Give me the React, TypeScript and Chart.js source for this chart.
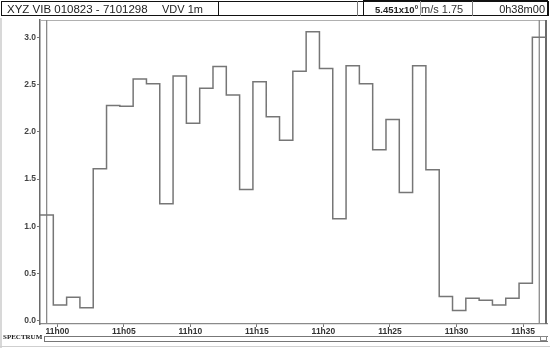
import React, { useEffect, useRef } from "react";
import { Chart, registerables } from "chart.js";

Chart.register(...registerables);

// ---- data ----
const stepStartMinute = -1.3; // start of first 1-minute step, in minutes from 11h00
const stepValues = [
  1.12, 0.17, 0.25, 0.14, 1.61, 2.28, 2.27, 2.56, 2.51, 1.24,
  2.59, 2.09, 2.46, 2.69, 2.39, 1.39, 2.53, 2.16, 1.91, 2.64,
  3.06, 2.67, 1.08, 2.7, 2.51, 1.81, 2.13, 1.36, 2.7, 1.6,
  0.26, 0.11, 0.24, 0.22, 0.17, 0.24, 0.4, 3.0,
];
const xTickMinutes = [0, 5, 10, 15, 20, 25, 30, 35];
const xTickLabels = ["11h00", "11h05", "11h10", "11h15", "11h20", "11h25", "11h30", "11h35"];
const yTickValues = [0, 0.5, 1, 1.5, 2, 2.5, 3];
const yTickLabels = ["0.0", "0.5", "1.0", "1.5", "2.0", "2.5", "3.0"];
const cursorMinutes = [-0.8, 36.22];
const headerTitle = "XYZ VIB 010823 - 7101298";
const headerMode = "VDV 1m";
const headerValue = "5.451x10";
const headerExp = "0";
const headerUnit = "m/s 1.75";
const headerDuration = "0h38m00";
const bandLabel = "SPECTRUM";

const frameAndCursors = {
  id: "frameAndCursors",
  beforeDatasetsDraw(chart: any) {
    const { ctx, chartArea, scales } = chart;
    ctx.save();
    ctx.strokeStyle = "#b0b0b0";
    ctx.lineWidth = 1;
    ctx.beginPath();
    ctx.moveTo(chartArea.left, chartArea.top + 0.5);
    ctx.lineTo(chartArea.right, chartArea.top + 0.5);
    ctx.stroke();
    ctx.strokeStyle = "#6a6a6a";
    ctx.lineWidth = 2;
    ctx.beginPath();
    ctx.moveTo(chartArea.right - 1, chartArea.top);
    ctx.lineTo(chartArea.right - 1, chartArea.bottom);
    ctx.stroke();
    ctx.strokeStyle = "#8a8a8a";
    ctx.lineWidth = 1.3;
    cursorMinutes.forEach((m) => {
      const x = scales.x.getPixelForValue(m);
      ctx.beginPath();
      ctx.moveTo(x, chartArea.top);
      ctx.lineTo(x, chartArea.bottom);
      ctx.stroke();
    });
    ctx.restore();
  },
};

export default function App() {
  const ref = useRef<HTMLCanvasElement | null>(null);

  useEffect(() => {
    if (!ref.current) return;
    const points = stepValues.map((v, i) => ({ x: stepStartMinute + i, y: v }));
    points.push({ x: stepStartMinute + stepValues.length, y: stepValues[stepValues.length - 1] });
    const chart = new Chart(ref.current, {
      type: "line",
      data: {
        datasets: [
          {
            data: points,
            stepped: true,
            borderColor: "#767676",
            borderWidth: 1.5,
            pointRadius: 0,
            fill: false,
          },
        ],
      },
      options: {
        animation: false,
        responsive: false,
        events: [],
        layout: { padding: { top: 20, right: 3, left: 0, bottom: 0 } },
        plugins: { legend: { display: false }, tooltip: { enabled: false } },
        scales: {
          x: {
            type: "linear",
            min: stepStartMinute,
            max: stepStartMinute + 38.1,
            afterFit: (s: any) => {
              s.height = 25;
            },
            afterBuildTicks: (s: any) => {
              s.ticks = xTickMinutes.map((v) => ({ value: v }));
            },
            ticks: {
              autoSkip: false,
              maxRotation: 0,
              padding: 0,
              color: "#333",
              font: { family: "Liberation Sans, Arial", size: 8.5, weight: "bold" },
              callback: (v: any) => {
                const i = xTickMinutes.indexOf(Number(v));
                return i >= 0 ? xTickLabels[i] : "";
              },
            },
            grid: { drawOnChartArea: false, tickLength: 3, color: "#777" },
            border: { color: "#8a8a8a", width: 1.2 },
          },
          y: {
            type: "linear",
            min: -0.032,
            max: 3.183,
            afterFit: (s: any) => {
              s.width = 40;
            },
            afterBuildTicks: (s: any) => {
              s.ticks = yTickValues.map((v) => ({ value: v }));
            },
            ticks: {
              padding: 1,
              color: "#444",
              font: { family: "Liberation Sans, Arial", size: 8.5, weight: "bold" },
              callback: (v: any) => {
                const i = yTickValues.indexOf(Number(v));
                return i >= 0 ? yTickLabels[i] : "";
              },
            },
            grid: { drawOnChartArea: false, tickLength: 3, color: "#777" },
            border: { color: "#6a6a6a", width: 1.5 },
          },
        },
      },
      plugins: [frameAndCursors],
    } as any);
    return () => chart.destroy();
  }, []);

  const font = "'Liberation Sans', Arial, sans-serif";
  const vline = (x: number, color = "#111", w = 1) => (
    <div style={{ position: "absolute", left: x, top: 1, width: w, height: 15, background: color }} />
  );

  return (
    <div style={{ position: "absolute", left: 0, top: 0, width: 550, height: 349, background: "#fff", overflow: "hidden" }}>
      <canvas ref={ref} width={550} height={349} style={{ position: "absolute", left: 0, top: 0, width: 550, height: 349 }} />
      <div style={{ position: "absolute", left: 0, top: 18, width: 2, height: 330, background: "#d8d8d8" }} />
      <div style={{ position: "absolute", left: 0, top: 346, width: 550, height: 1, background: "#cfcfcf" }} />
      <div style={{ position: "absolute", left: 1, top: 1, width: 545, height: 13, border: "1.5px solid #111", borderRightWidth: 2 }} />
      <div style={{ position: "absolute", left: 363, top: 0, width: 185, height: 2, background: "#111" }} />
      {vline(218)}
      {vline(357, "#777")}
      {vline(363)}
      {vline(420, "#999")}
      {vline(472, "#777")}
      <div style={{ position: "absolute", left: 7, top: 3, fontFamily: font, fontSize: 11.5, lineHeight: "13px", color: "#222", whiteSpace: "nowrap" }}>
        {headerTitle}
      </div>
      <div style={{ position: "absolute", left: 162, top: 3, fontFamily: font, fontSize: 11, lineHeight: "13px", color: "#222", whiteSpace: "nowrap" }}>
        {headerMode}
      </div>
      <div style={{ position: "absolute", left: 375, top: 3, fontFamily: font, fontSize: 9.5, fontWeight: "bold", lineHeight: "13px", color: "#222", whiteSpace: "nowrap" }}>
        {headerValue}
        <sup style={{ fontSize: 6, lineHeight: 0 }}>{headerExp}</sup>
      </div>
      <div style={{ position: "absolute", left: 421, top: 3, fontFamily: font, fontSize: 11, lineHeight: "13px", color: "#333", whiteSpace: "nowrap" }}>
        {headerUnit}
      </div>
      <div style={{ position: "absolute", right: 5, top: 3, fontFamily: font, fontSize: 11, lineHeight: "13px", color: "#222", whiteSpace: "nowrap", textAlign: "right" }}>
        {headerDuration}
      </div>
      <div style={{ position: "absolute", left: 3, top: 333, fontFamily: "'Liberation Serif', 'Times New Roman', serif", fontSize: 7, fontWeight: "bold", lineHeight: "8px", color: "#222", whiteSpace: "nowrap" }}>
        {bandLabel}
      </div>
      <div style={{ position: "absolute", left: 44, top: 336, width: 504, height: 1, background: "#777" }} />
      <div style={{ position: "absolute", left: 44, top: 341, width: 504, height: 1, background: "#777" }} />
      <div style={{ position: "absolute", left: 44, top: 336, width: 1, height: 6, background: "#777" }} />
      <div style={{ position: "absolute", left: 540, top: 336, width: 7, height: 5, border: "1px solid #888", boxSizing: "border-box" }} />
    </div>
  );
}
